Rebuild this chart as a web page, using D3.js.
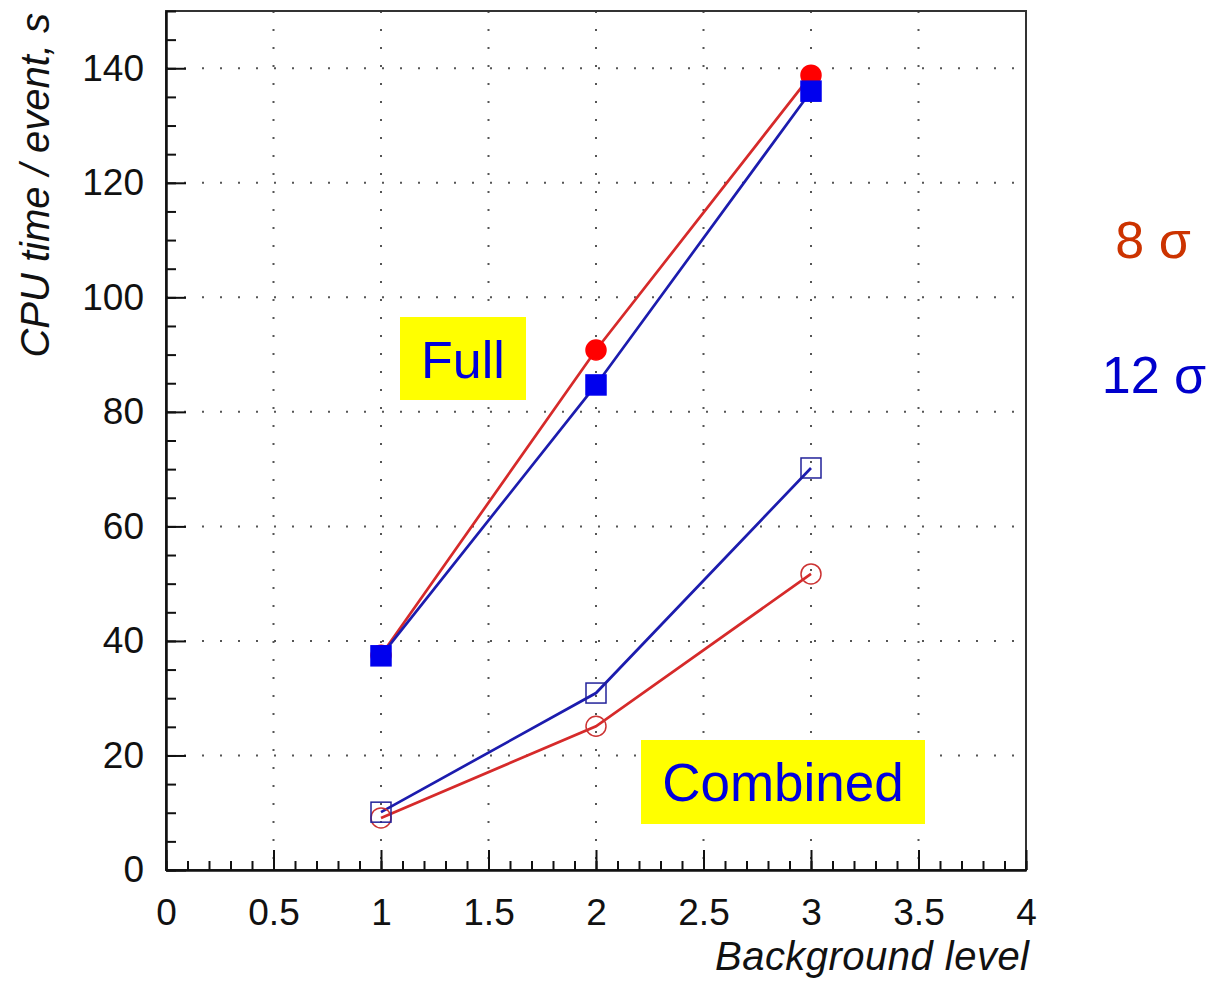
<!DOCTYPE html>
<html>
	<head>
		<meta charset="utf-8">
		<title>CPU time per event</title>
		<style>
			body { margin: 0; background: #ffffff; }
			svg text { font-family: "Liberation Sans", Arial, sans-serif; }
		</style>
	</head>
	<body>
		<div id="chart"></div>

		<script src="https://cdn.jsdelivr.net/npm/d3@7"></script>
		<script>
			// background levels on the x axis
			var levels = [1, 2, 3];

			// CPU time / event, s
			var full8 = [37.5, 90.8, 138.8];
			var full12 = [37.4, 84.7, 136.0];
			var comb12 = [10.1, 30.9, 70.2];
			var comb8 = [9.1, 25.1, 51.7];

			var xTicks = [0, 0.5, 1, 1.5, 2, 2.5, 3, 3.5, 4];
			var yTicks = [0, 20, 40, 60, 80, 100, 120, 140];

			(function(){
				"use strict";

				var w = 1211,
					h = 984,
					left = 166,
					right = 1026,
					top = 11,
					bottom = 870;

				var svg = d3.select("#chart").append("svg")
					.attr("width", w)
					.attr("height", h);

				var x = d3.scaleLinear().domain([0, 4]).range([left, right]);
				var y = d3.scaleLinear().domain([0, 150]).range([bottom, top]);

				// dotted grid
				var grid = svg.append("g")
					.attr("stroke", "#555")
					.attr("stroke-width", 2)
					.attr("stroke-dasharray", "2,16");

				grid.selectAll("line.v")
					.data(xTicks.filter(function(d){ return d > 0 && d < 4; }))
					.enter().append("line")
					.attr("class", "v")
					.attr("x1", function(d){ return x(d); })
					.attr("x2", function(d){ return x(d); })
					.attr("y1", y(150))
					.attr("y2", y(0));

				grid.selectAll("line.h")
					.data(yTicks.filter(function(d){ return d > 0; }))
					.enter().append("line")
					.attr("class", "h")
					.attr("x1", x(0))
					.attr("x2", x(4))
					.attr("y1", function(d){ return y(d); })
					.attr("y2", function(d){ return y(d); });

				// frame
				svg.append("rect")
					.attr("x", left)
					.attr("y", top)
					.attr("width", right - left)
					.attr("height", bottom - top)
					.attr("fill", "none")
					.attr("stroke", "#333")
					.attr("stroke-width", 2);

				// axes, ticks pointing inside
				var xMinor = d3.axisBottom(x)
					.tickValues(d3.range(0, 4.001, 0.1))
					.tickFormat("")
					.tickSizeInner(-9)
					.tickSizeOuter(0);
				var xMajor = d3.axisBottom(x)
					.tickValues(xTicks)
					.tickFormat(d3.format("~g"))
					.tickSizeInner(-20)
					.tickSizeOuter(0)
					.tickPadding(29);

				var yMinor = d3.axisLeft(y)
					.tickValues(d3.range(0, 150.1, 5))
					.tickFormat("")
					.tickSizeInner(-10)
					.tickSizeOuter(0);
				var yMajor = d3.axisLeft(y)
					.tickValues(yTicks)
					.tickSizeInner(-20)
					.tickSizeOuter(0)
					.tickPadding(22);

				[xMinor, xMajor].forEach(function(a){
					svg.append("g")
						.attr("class", "axis")
						.attr("transform", "translate(0," + bottom + ")")
						.call(a);
				});
				[yMinor, yMajor].forEach(function(a){
					svg.append("g")
						.attr("class", "axis")
						.attr("transform", "translate(" + left + ",0)")
						.call(a);
				});

				svg.selectAll(".axis path").attr("stroke", "#111").attr("stroke-width", 2);
				svg.selectAll(".axis line").attr("stroke", "#111").attr("stroke-width", 2);
				svg.selectAll(".axis text")
					.attr("font-size", 37)
					.attr("fill", "#111");

				// axis titles
				svg.append("text")
					.attr("x", 1029)
					.attr("y", 970)
					.attr("text-anchor", "end")
					.attr("font-size", 40)
					.attr("font-style", "italic")
					.attr("fill", "#111")
					.attr("textLength", 314)
					.text("Background level");

				svg.append("text")
					.attr("transform", "translate(49,13) rotate(-90)")
					.attr("text-anchor", "end")
					.attr("font-size", 40)
					.attr("font-style", "italic")
					.attr("fill", "#111")
					.text("CPU time / event, s");

				// series
				var line = d3.line()
					.x(function(d){ return x(d[0]); })
					.y(function(d){ return y(d[1]); });

				function pts(vals){
					return levels.map(function(l, i){ return [l, vals[i]]; });
				}

				var series = [
					{ vals: comb8, line: "#d62a2a", mark: "circle", fill: "none", stroke: "#cc3333" },
					{ vals: comb12, line: "#1c1cae", mark: "square", fill: "none", stroke: "#22229a" },
					{ vals: full8, line: "#d62a2a", mark: "circle", fill: "#ff0000", stroke: "#ff0000" },
					{ vals: full12, line: "#1c1cae", mark: "square", fill: "#0000ee", stroke: "#0000ee" }
				];

				series.forEach(function(s){
					svg.append("path")
						.datum(pts(s.vals))
						.attr("fill", "none")
						.attr("stroke", s.line)
						.attr("stroke-width", 2.7)
						.attr("d", line);
				});

				series.forEach(function(s){
					var g = svg.append("g");
					if (s.mark === "circle") {
						g.selectAll("circle")
							.data(pts(s.vals))
							.enter().append("circle")
							.attr("cx", function(d){ return x(d[0]); })
							.attr("cy", function(d){ return y(d[1]); })
							.attr("r", 10)
							.attr("fill", s.fill)
							.attr("stroke", s.stroke)
							.attr("stroke-width", 1.5);
					} else {
						g.selectAll("rect")
							.data(pts(s.vals))
							.enter().append("rect")
							.attr("x", function(d){ return x(d[0]) - 10; })
							.attr("y", function(d){ return y(d[1]) - 10; })
							.attr("width", 20)
							.attr("height", 20)
							.attr("fill", s.fill)
							.attr("stroke", s.stroke)
							.attr("stroke-width", 1.5);
					}
				});

				// labels on yellow boxes
				var boxes = [
					{ text: "Full", x0: 400, y0: 317, x1: 526, y1: 400, size: 52 },
					{ text: "Combined", x0: 641, y0: 740, x1: 925, y1: 824, size: 53 }
				];
				boxes.forEach(function(b){
					svg.append("rect")
						.attr("x", b.x0)
						.attr("y", b.y0)
						.attr("width", b.x1 - b.x0)
						.attr("height", b.y1 - b.y0)
						.attr("fill", "#ffff00");
					svg.append("text")
						.attr("x", (b.x0 + b.x1) / 2)
						.attr("y", (b.y0 + b.y1) / 2 + 19)
						.attr("text-anchor", "middle")
						.attr("font-size", b.size)
						.attr("fill", "#0000dd")
						.text(b.text);
				});

				// sigma legend on the right
				svg.append("text")
					.attr("x", 1153)
					.attr("y", 258)
					.attr("text-anchor", "middle")
					.attr("font-size", 52)
					.attr("fill", "#cc3300")
					.text("8 σ");
				svg.append("text")
					.attr("x", 1154)
					.attr("y", 393)
					.attr("text-anchor", "middle")
					.attr("font-size", 52)
					.attr("fill", "#0000cc")
					.text("12 σ");
			})();
		</script>
	</body>
</html>
